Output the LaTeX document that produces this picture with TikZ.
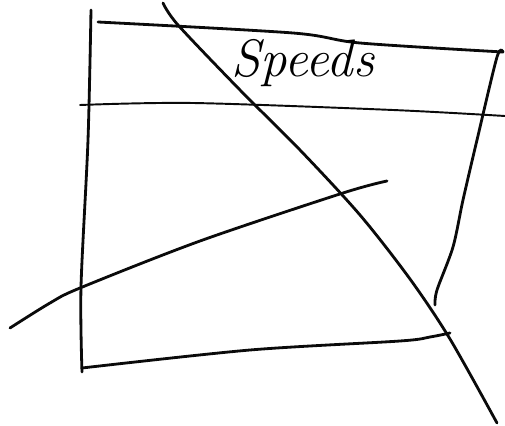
\documentclass[tikz,border=0pt]{standalone}
\usepackage{tikz}
\usetikzlibrary{positioning,calc}
\definecolor{inkBlack}{RGB}{10,10,10}
\tikzset{pen/.style={inkBlack, line width=1.6pt, line cap=round, line join=round},
  thinpen/.style={inkBlack, line width=1.1pt, line cap=round, line join=round}}

\begin{document}
\begin{tikzpicture}[x=0.02cm,y=-0.02cm]
    \useasboundingbox (0,0) rectangle (505,426);
    \coordinate (TL) at (91,10);
    \coordinate (BL) at (82,372);
    \coordinate (TR) at (503,52);
    \coordinate (RE) at (435,305);
    % box outline
    \draw[pen] plot[smooth] coordinates {(TL) (88,140) (81,287) (BL)};
    \draw[pen] plot[smooth] coordinates {(98,22) (293,33) (360,43) (TR)};
    \draw[pen] plot[smooth] coordinates {(TR) (497,57) (477,140) (463,200) (453,247) (437,290) (RE)};
    \draw[thinpen] plot[smooth] coordinates {(80,105) (193,103) (393,110) (505,116)};
    \draw[pen] plot[smooth] coordinates {(82,368) (250,350) (400,341) (430,337) (450,333)};
    % crossing strokes
    \draw[pen] plot[smooth] coordinates {(163,3) (178,25) (240,90) (300,150) (360,215) (410,279) (450,339) (497,423)};
    \draw[pen] plot[smooth] coordinates {(10,328) (50,303) (80,288) (200,241) (343,193) (387,181)};
    \node[font=\fontsize{30}{32}\selectfont\itshape, inner sep=0pt] (speeds) at (303,63) {Speeds};
  \end{tikzpicture}
\end{document}
